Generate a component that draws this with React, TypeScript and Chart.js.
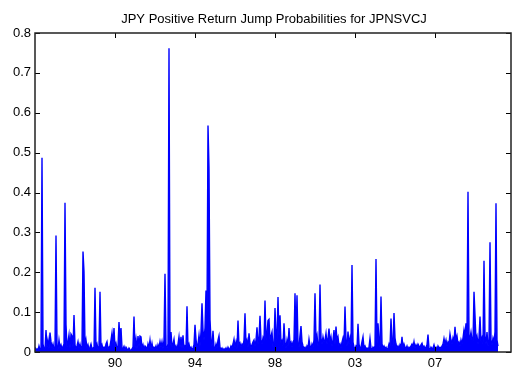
import { useEffect, useRef } from "react";
import { Chart, registerables } from "chart.js";

Chart.register(...registerables);

const TITLE = "JPY Positive Return Jump Probabilities for JPNSVCJ";

// Year labels and the sample index each one sits at
const yearTickIndex = [80, 160, 240, 320, 400];
const yearTickLabels = ["90", "94", "98", "03", "07"];

const yTicks = [0, 0.1, 0.2, 0.3, 0.4, 0.5, 0.6, 0.7, 0.8];

// Positive return jump probability, one value per sample (1986 onward)
const jumpProb = [
  0.012, 0.004, 0.008, 0.003, 0.015, 0.006, 0.010, 0.487, 0.020, 0.008,
  0.006, 0.055, 0.012, 0.030, 0.008, 0.049, 0.026, 0.010, 0.020, 0.007,
  0.012, 0.292, 0.015, 0.006, 0.030, 0.010, 0.018, 0.008, 0.014, 0.020,
  0.374, 0.069, 0.012, 0.025, 0.043, 0.010, 0.045, 0.040, 0.012, 0.093,
  0.018, 0.008, 0.015, 0.026, 0.010, 0.020, 0.008, 0.015, 0.252, 0.201,
  0.015, 0.030, 0.010, 0.018, 0.006, 0.012, 0.020, 0.008, 0.010, 0.005,
  0.161, 0.012, 0.020, 0.006, 0.015, 0.151, 0.010, 0.018, 0.008, 0.012,
  0.006, 0.020, 0.026, 0.008, 0.012, 0.015, 0.030, 0.048, 0.020, 0.060,
  0.012, 0.022, 0.008, 0.015, 0.075, 0.030, 0.060, 0.010, 0.008, 0.014,
  0.005, 0.012, 0.008, 0.004, 0.010, 0.006, 0.003, 0.008, 0.012, 0.089,
  0.010, 0.032, 0.008, 0.040, 0.015, 0.040, 0.038, 0.010, 0.018, 0.006,
  0.015, 0.012, 0.005, 0.020, 0.010, 0.030, 0.008, 0.022, 0.006, 0.012,
  0.008, 0.015, 0.005, 0.018, 0.010, 0.026, 0.012, 0.026, 0.008, 0.030,
  0.196, 0.015, 0.010, 0.020, 0.762, 0.015, 0.050, 0.012, 0.020, 0.032,
  0.008, 0.015, 0.006, 0.020, 0.038, 0.012, 0.038, 0.010, 0.042, 0.008,
  0.015, 0.010, 0.115, 0.012, 0.020, 0.008, 0.012, 0.005, 0.010, 0.018,
  0.068, 0.032, 0.012, 0.020, 0.042, 0.015, 0.050, 0.122, 0.055, 0.030,
  0.060, 0.154, 0.090, 0.568, 0.461, 0.082, 0.030, 0.015, 0.053, 0.012,
  0.008, 0.020, 0.010, 0.030, 0.041, 0.012, 0.006, 0.010, 0.004, 0.008,
  0.005, 0.010, 0.004, 0.012, 0.006, 0.008, 0.015, 0.010, 0.020, 0.032,
  0.012, 0.025, 0.008, 0.079, 0.015, 0.022, 0.012, 0.020, 0.015, 0.030,
  0.097, 0.020, 0.030, 0.012, 0.047, 0.020, 0.010, 0.018, 0.025, 0.030,
  0.015, 0.030, 0.062, 0.020, 0.035, 0.091, 0.030, 0.020, 0.035, 0.025,
  0.129, 0.030, 0.047, 0.079, 0.082, 0.030, 0.040, 0.050, 0.012, 0.020,
  0.110, 0.045, 0.030, 0.138, 0.040, 0.092, 0.020, 0.028, 0.015, 0.072,
  0.025, 0.010, 0.030, 0.015, 0.060, 0.020, 0.025, 0.012, 0.025, 0.030,
  0.147, 0.030, 0.142, 0.020, 0.012, 0.042, 0.065, 0.025, 0.015, 0.008,
  0.012, 0.006, 0.015, 0.010, 0.032, 0.015, 0.008, 0.020, 0.012, 0.030,
  0.147, 0.030, 0.042, 0.015, 0.020, 0.169, 0.035, 0.020, 0.038, 0.025,
  0.030, 0.047, 0.020, 0.035, 0.059, 0.025, 0.038, 0.015, 0.030, 0.055,
  0.020, 0.064, 0.030, 0.038, 0.015, 0.020, 0.010, 0.025, 0.035, 0.020,
  0.114, 0.030, 0.015, 0.051, 0.020, 0.035, 0.015, 0.218, 0.025, 0.012,
  0.008, 0.015, 0.010, 0.071, 0.020, 0.008, 0.012, 0.026, 0.038, 0.010,
  0.015, 0.008, 0.010, 0.006, 0.012, 0.034, 0.010, 0.005, 0.012, 0.008,
  0.015, 0.233, 0.020, 0.072, 0.030, 0.012, 0.139, 0.020, 0.010, 0.015,
  0.008, 0.012, 0.006, 0.010, 0.020, 0.012, 0.084, 0.025, 0.015, 0.098,
  0.035, 0.020, 0.010, 0.015, 0.008, 0.018, 0.012, 0.038, 0.010, 0.020,
  0.012, 0.008, 0.015, 0.006, 0.012, 0.010, 0.015, 0.020, 0.012, 0.026,
  0.010, 0.018, 0.012, 0.020, 0.015, 0.010, 0.018, 0.022, 0.012, 0.015,
  0.008, 0.012, 0.018, 0.044, 0.010, 0.005, 0.012, 0.008, 0.010, 0.018,
  0.008, 0.012, 0.006, 0.015, 0.010, 0.012, 0.008, 0.015, 0.020, 0.034,
  0.020, 0.030, 0.015, 0.025, 0.020, 0.045, 0.030, 0.020, 0.035, 0.025,
  0.063, 0.030, 0.040, 0.020, 0.025, 0.015, 0.030, 0.020, 0.035, 0.055,
  0.040, 0.072, 0.045, 0.402, 0.040, 0.035, 0.050, 0.030, 0.025, 0.151,
  0.092, 0.030, 0.040, 0.020, 0.035, 0.089, 0.025, 0.035, 0.020, 0.229,
  0.040, 0.020, 0.050, 0.015, 0.025, 0.275, 0.030, 0.018, 0.035, 0.025,
  0.050, 0.373, 0.030, 0.015,
];

const X_MAX = 476;
const FONT = '"Liberation Sans", Arial, Helvetica, sans-serif';

// Boxed axes with inward ticks on all four sides, plus the title
const framePlugin = {
  id: "frame",
  afterDraw(chart: any) {
    const { ctx, chartArea: a, scales } = chart;
    const tick = 5;
    ctx.save();
    ctx.strokeStyle = "#000";
    ctx.lineWidth = 1;
    ctx.beginPath();
    for (const v of yearTickIndex) {
      const px = Math.round(scales.x.getPixelForValue(v)) + 0.5;
      ctx.moveTo(px, a.bottom);
      ctx.lineTo(px, a.bottom - tick);
      ctx.moveTo(px, a.top);
      ctx.lineTo(px, a.top + tick);
    }
    for (const v of yTicks) {
      const py = Math.round(scales.y.getPixelForValue(v)) + 0.5;
      ctx.moveTo(a.left, py);
      ctx.lineTo(a.left + tick, py);
      ctx.moveTo(a.right, py);
      ctx.lineTo(a.right - tick, py);
    }
    ctx.stroke();
    ctx.lineWidth = 1.5;
    ctx.strokeStyle = "#222";
    ctx.strokeRect(a.left, a.top, a.right - a.left, a.bottom - a.top);

    ctx.fillStyle = "#000";
    ctx.font = `13px ${FONT}`;
    ctx.textAlign = "center";
    ctx.textBaseline = "alphabetic";
    ctx.fillText(TITLE, (a.left + a.right) / 2 + 1, 23);
    ctx.restore();
  },
};

export default function App() {
  const ref = useRef<HTMLCanvasElement | null>(null);

  useEffect(() => {
    if (!ref.current) return;
    const chart = new Chart(ref.current, {
      type: "line",
      data: {
        datasets: [
          {
            data: jumpProb.map((v, i) => ({ x: i, y: v })),
            borderColor: "#0000ff",
            backgroundColor: "#0000ff",
            borderWidth: 1.4,
            pointRadius: 0,
            tension: 0,
            fill: "origin",
          },
        ],
      },
      options: {
        animation: false,
        responsive: false,
        events: [],
        layout: { padding: { top: 33, right: 2, bottom: 0, left: 0 } },
        plugins: {
          legend: { display: false },
          title: { display: false },
          tooltip: { enabled: false },
        },
        scales: {
          x: {
            type: "linear",
            min: 0,
            max: X_MAX,
            grid: { display: false, drawTicks: false },
            border: { display: false },
            afterBuildTicks: (scale: any) => {
              scale.ticks = yearTickIndex.map((v) => ({ value: v }));
            },
            afterFit: (scale: any) => {
              scale.height = 18;
            },
            ticks: {
              autoSkip: false,
              maxRotation: 0,
              padding: 4,
              color: "#000",
              font: { family: FONT, size: 13 },
              callback: (value: any) => {
                const k = yearTickIndex.indexOf(Number(value));
                return k >= 0 ? yearTickLabels[k] : "";
              },
            },
          },
          y: {
            min: 0,
            max: 0.8,
            grid: { display: false, drawTicks: false },
            border: { display: false },
            afterBuildTicks: (scale: any) => {
              scale.ticks = yTicks.map((v) => ({ value: v }));
            },
            afterFit: (scale: any) => {
              scale.width = 35;
            },
            ticks: {
              autoSkip: false,
              padding: 4,
              color: "#000",
              font: { family: FONT, size: 13 },
              callback: (value: any) =>
                Number(value) === 0 ? "0" : Number(value).toFixed(1),
            },
          },
        },
      },
      plugins: [framePlugin],
    });
    return () => chart.destroy();
  }, []);

  return (
    <div style={{ position: "fixed", left: 0, top: 0, width: 513, height: 370, background: "#fff" }}>
      <canvas ref={ref} width={513} height={370} style={{ display: "block" }} />
    </div>
  );
}
